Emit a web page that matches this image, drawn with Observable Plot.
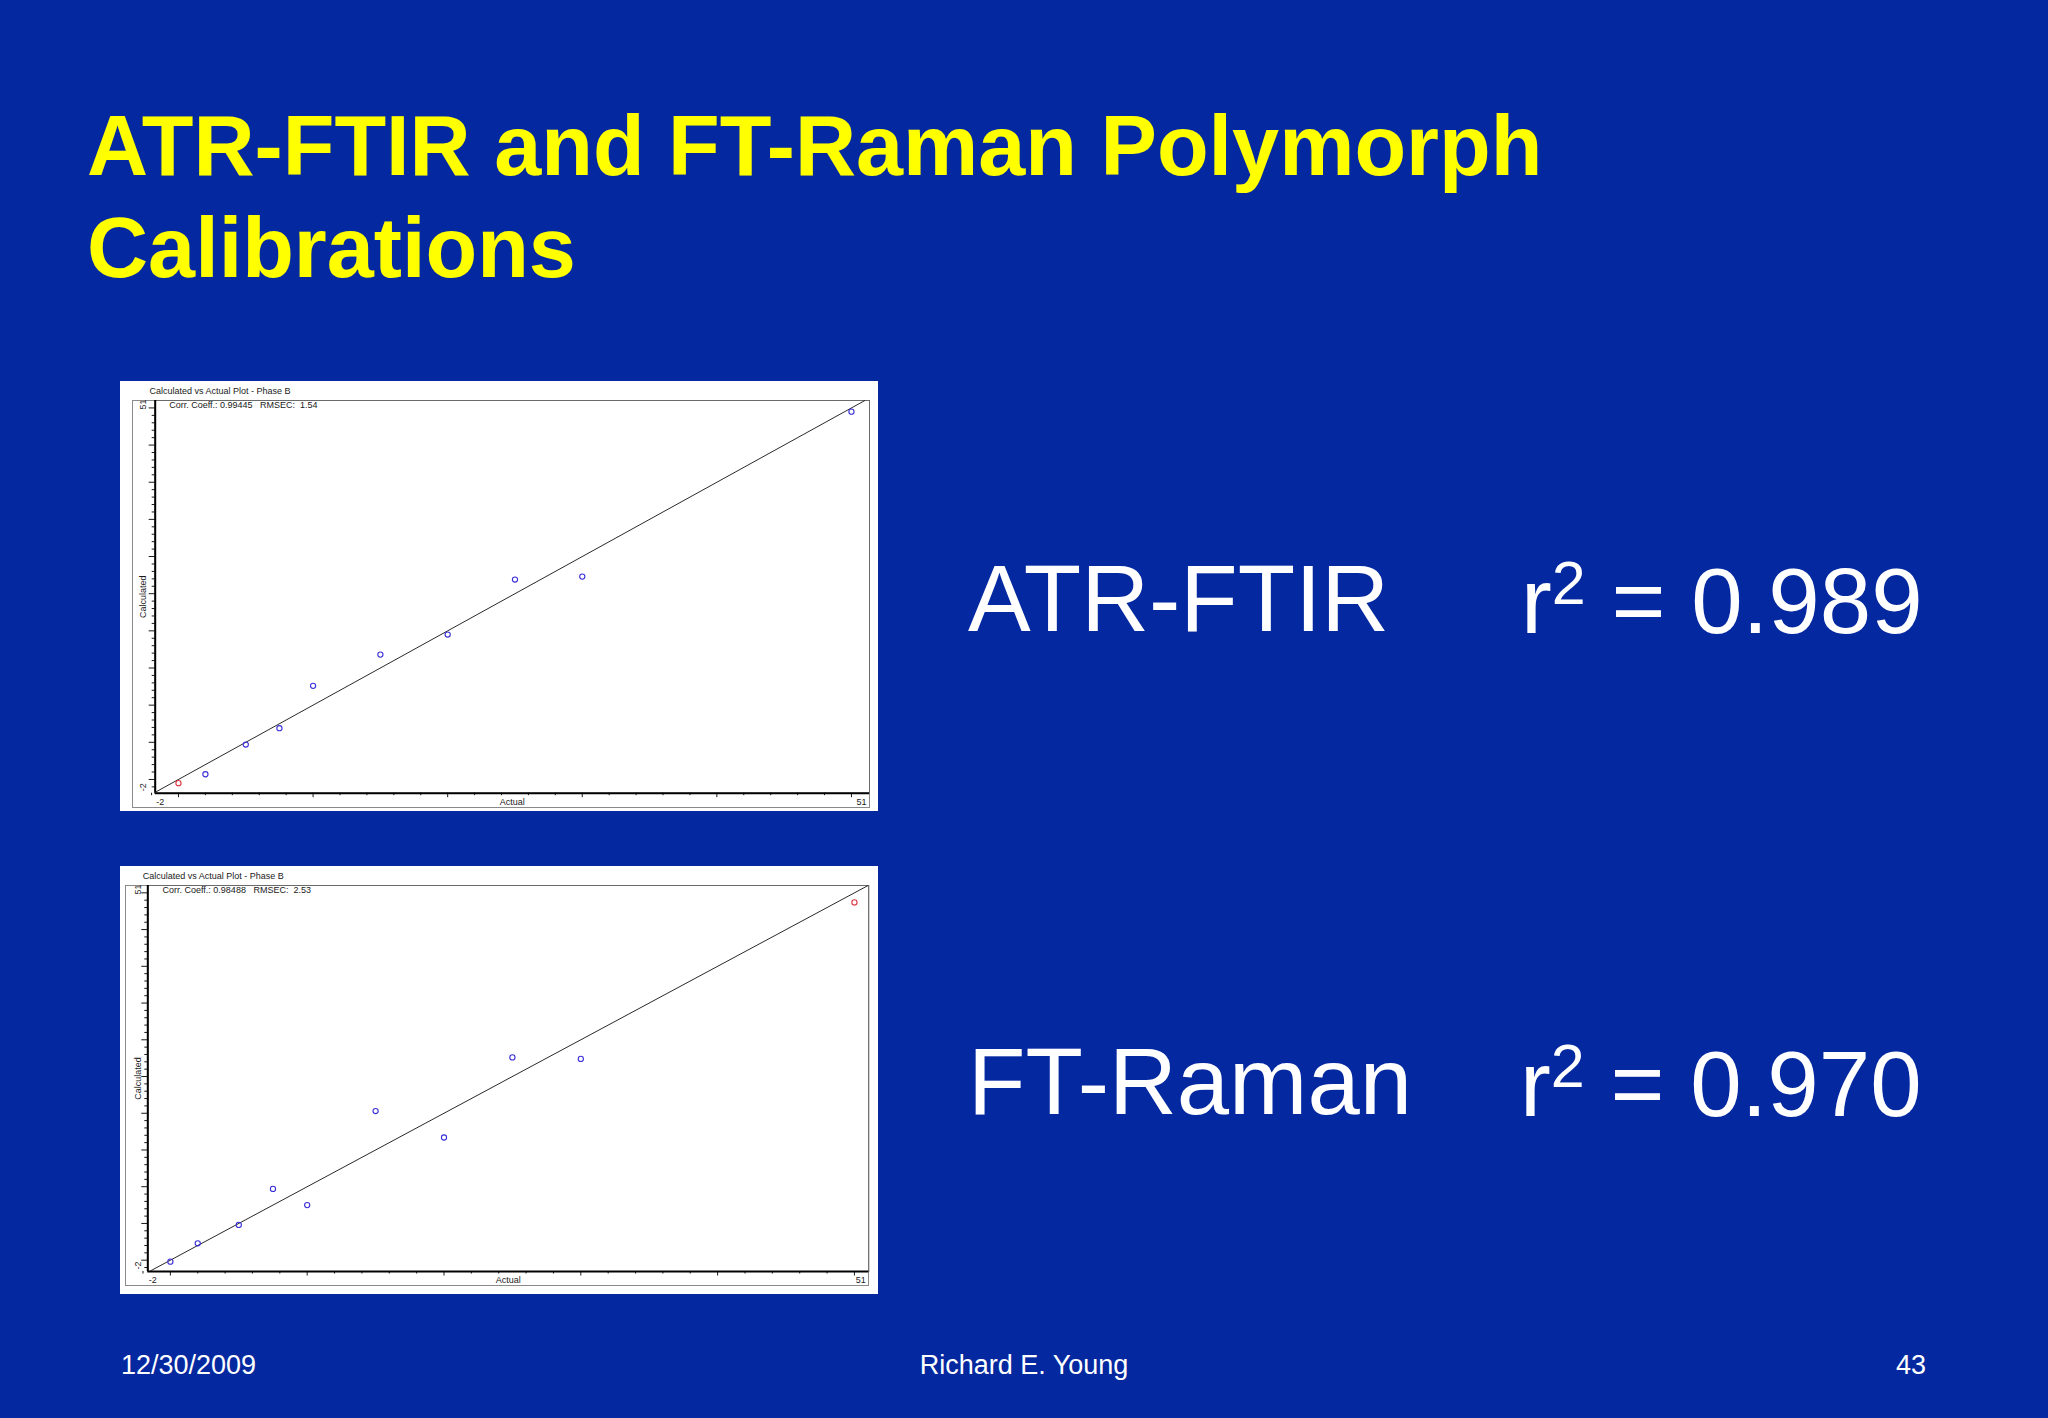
<!DOCTYPE html>
<html>
<head>
<meta charset="utf-8">
<script src="https://cdn.jsdelivr.net/npm/d3@7"></script>
<script src="https://cdn.jsdelivr.net/npm/@observablehq/plot@0.6"></script>
<style>
  html, body { margin: 0; padding: 0; }
  body {
    width: 2048px; height: 1418px; overflow: hidden; position: relative;
    background: #0428a0; font-family: "Liberation Sans", Arial, sans-serif;
  }
  .title {
    position: absolute; left: 87px; top: 95px; color: #ffff00;
    font-weight: bold; font-size: 84.6px; line-height: 101.7px; white-space: nowrap;
  }
  .big {
    position: absolute; color: #ffffff; font-size: 94px; line-height: 94px; white-space: nowrap;
  }
  .big.r2 { font-size: 92.5px; }
  .big .sup { font-size: 61px; position: relative; top: -29px; }
  .foot {
    position: absolute; color: #ffffff; font-size: 27px; line-height: 27px; white-space: nowrap;
    top: 1352px;
  }
  .panel { position: absolute; left: 120px; width: 758px; background: #ffffff; }
  .panel .outer { position: absolute; border: 1px solid #8a8a8a; box-sizing: border-box; }
  .panel svg { position: absolute; left: 0; top: 0; overflow: visible; }
</style>
</head>
<body>
<div class="title">ATR-FTIR and FT-Raman Polymorph<br>Calibrations</div>

<div class="panel" id="p1" style="top:381px;height:430px;">
  <div class="outer" style="left:12px;top:19px;width:738px;height:408px;"></div>
</div>
<div class="panel" id="p2" style="top:866px;height:428px;">
  <div class="outer" style="left:4.7px;top:19px;width:744.6px;height:401px;"></div>
</div>

<div class="big" style="left:968px;top:552px;">ATR-FTIR</div>
<div class="big r2" style="left:1521px;top:553.5px;">r<span class="sup">2</span> = 0.989</div>
<div class="big" style="left:968px;top:1035px;">FT-Raman</div>
<div class="big r2" style="left:1520px;top:1036.5px;">r<span class="sup">2</span> = 0.970</div>

<div class="foot" style="left:121px;">12/30/2009</div>
<div class="foot" style="left:1024px;transform:translateX(-50%);">Richard E. Young</div>
<div class="foot" style="right:122px;">43</div>

<script>
// ---- data ----
const actual = [0, 2, 5, 7.5, 10, 15, 20, 25, 30, 50];
const atrCalculated = [-0.5, 0.7, 4.7, 6.9, 12.6, 16.8, 19.5, 26.9, 27.3, 49.5];
const atrSet = ["validation", "calibration", "calibration", "calibration", "calibration",
                "calibration", "calibration", "calibration", "calibration", "calibration"];
const ramanCalculated = [-0.2, 2.3, 4.8, 9.7, 7.5, 20.3, 16.7, 27.6, 27.4, 48.7];
const ramanSet = ["calibration", "calibration", "calibration", "calibration", "calibration",
                  "calibration", "calibration", "calibration", "calibration", "validation"];
const axisEndLabels = ["-2", "51"];
const diagonalEnds = [-2, 51];
const xMajorTicks = [0, 10, 20, 30, 40, 50];
const xMinorTicks = d3.range(-2, 51, 2).filter(v => v % 10 !== 0);
const yMajorTicks = [0, 5, 10, 15, 20, 25, 30, 35, 40, 45, 50];
const yMinorTicks = d3.range(-1, 51, 1).filter(v => v % 5 !== 0);
const panelTitle = "Calculated vs Actual Plot - Phase B";
const atrStats = "Corr. Coeff.: 0.99445   RMSEC:  1.54";
const ramanStats = "Corr. Coeff.: 0.98488   RMSEC:  2.53";

function rows(calc, set) {
  return actual.map((a, i) => ({actual: a, calculated: calc[i], set: set[i]}));
}

function makePlot(cfg) {
  const ink = "#1a1a1a";
  return Plot.plot({
    width: 758, height: cfg.height,
    marginLeft: cfg.ml, marginTop: cfg.mt, marginRight: cfg.mr, marginBottom: cfg.mb,
    x: {domain: cfg.xDomain, axis: null},
    y: {domain: cfg.yDomain, axis: null},
    color: {domain: ["calibration", "validation"], range: ["#3a30d8", "#e0303c"]},
    style: {background: "transparent", fontFamily: "'Liberation Sans', Arial, sans-serif", fontSize: "9px", color: ink, overflow: "visible"},
    marks: [
      Plot.frame({stroke: "#6a6a6a", strokeWidth: 1}),
      Plot.axisX(xMinorTicks, {anchor: "bottom", tickSize: 2.5, tickFormat: () => "", label: null, stroke: ink}),
      Plot.axisX(xMajorTicks, {anchor: "bottom", tickSize: 4.5, tickFormat: () => "", label: null, stroke: ink}),
      Plot.axisY(yMinorTicks, {anchor: "left", tickSize: 3, tickFormat: () => "", label: null, stroke: ink}),
      Plot.axisY(yMajorTicks, {anchor: "left", tickSize: 6, tickFormat: () => "", label: null, stroke: ink}),
      Plot.ruleX([cfg.xDomain[0]], {stroke: "#000", strokeWidth: 2}),
      Plot.ruleY([cfg.yDomain[0]], {stroke: "#000", strokeWidth: 2}),
      Plot.line(diagonalEnds, {x: d => d, y: d => d, stroke: "#2a2a2a", strokeWidth: 1, clip: true}),
      Plot.dot(cfg.data, {x: "actual", y: "calculated", stroke: "set", fill: "none", r: 2.6, strokeWidth: 1.1}),
      // x-axis end labels and title
      Plot.text([axisEndLabels[0]], {text: d => d, frameAnchor: "bottom-left", textAnchor: "start", lineAnchor: "middle", dx: 1, dy: cfg.xLabelDy, fill: ink}),
      Plot.text([axisEndLabels[1]], {text: d => d, frameAnchor: "bottom-right", textAnchor: "end", lineAnchor: "middle", dx: -3, dy: cfg.xLabelDy, fill: ink}),
      Plot.text(["Actual"], {text: d => d, frameAnchor: "bottom", lineAnchor: "middle", dy: cfg.xLabelDy, fill: ink}),
      // y-axis end labels and title (rotated)
      Plot.text([axisEndLabels[1]], {text: d => d, frameAnchor: "top-left", rotate: -90, textAnchor: "start", lineAnchor: "middle", dx: cfg.yLabelDx, dy: 9, fill: ink}),
      Plot.text([axisEndLabels[0]], {text: d => d, frameAnchor: "bottom-left", rotate: -90, textAnchor: "start", lineAnchor: "middle", dx: cfg.yLabelDx, dy: -2, fill: ink}),
      Plot.text(["Calculated"], {text: d => d, frameAnchor: "left", rotate: -90, textAnchor: "middle", lineAnchor: "middle", dx: cfg.yLabelDx, fill: ink}),
      // panel title and statistics
      Plot.text([panelTitle], {text: d => d, frameAnchor: "top-left", textAnchor: "start", lineAnchor: "middle", dx: cfg.titleDx, dy: -9, fill: ink}),
      Plot.text([cfg.stats], {text: d => d, frameAnchor: "top-left", textAnchor: "start", lineAnchor: "middle", dx: cfg.statsDx, dy: 5, fill: ink, style: {whiteSpace: "pre"}})
    ]
  });
}

const p1 = makePlot({
  height: 430, ml: 34.7, mt: 19, mr: 9, mb: 18.3,
  xDomain: [-1.73, 51.34], yDomain: [-1.85, 51.0],
  data: rows(atrCalculated, atrSet), stats: atrStats,
  xLabelDy: 8.5, yLabelDx: -11.7, titleDx: -5.7, statsDx: 14
});
p1.querySelectorAll("text").forEach(t => t.setAttribute("xml:space", "preserve"));
document.getElementById("p1").appendChild(p1);

const p2 = makePlot({
  height: 428, ml: 27.3, mt: 19, mr: 9.7, mb: 23,
  xDomain: [-1.65, 51.05], yDomain: [-1.54, 51.0],
  data: rows(ramanCalculated, ramanSet), stats: ramanStats,
  xLabelDy: 9, yLabelDx: -10, titleDx: -5, statsDx: 14.7
});
p2.querySelectorAll("text").forEach(t => t.setAttribute("xml:space", "preserve"));
document.getElementById("p2").appendChild(p2);
</script>
</body>
</html>
